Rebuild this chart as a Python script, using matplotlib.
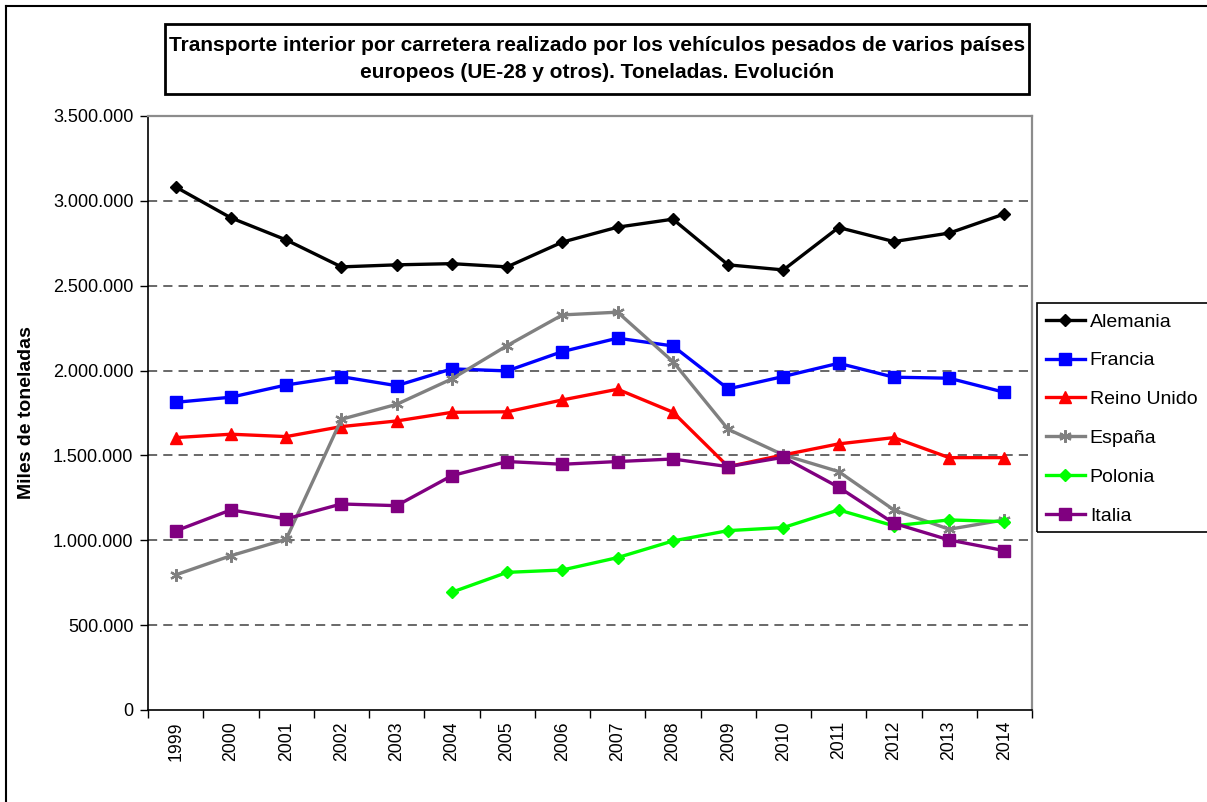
import numpy as np
import matplotlib
matplotlib.use('Agg')
import matplotlib.pyplot as plt
from matplotlib.patches import Rectangle
from matplotlib.lines import Line2D
from matplotlib.ticker import FuncFormatter, FixedLocator

plt.rcParams['font.family'] = ['Liberation Sans', 'DejaVu Sans']

# Datos (miles de toneladas)
years = [str(y) for y in range(1999, 2015)]
alemania = [3082000, 2900000, 2770000, 2611000, 2623000, 2630000, 2611000, 2757000,
            2845000, 2892000, 2623000, 2593000, 2843000, 2760000, 2810000, 2923000]
francia = [1813000, 1843000, 1915000, 1964000, 1911000, 2010000, 1998000, 2112000,
           2191000, 2145000, 1892000, 1965000, 2043000, 1961000, 1955000, 1872000]
reino_unido = [1605000, 1625000, 1611000, 1670000, 1703000, 1754000, 1757000, 1827000,
               1890000, 1755000, 1434000, 1503000, 1568000, 1605000, 1487000, 1487000]
espana = [796000, 909000, 1006000, 1713000, 1801000, 1951000, 2147000, 2328000,
          2344000, 2053000, 1654000, 1503000, 1405000, 1179000, 1065000, 1120000]
polonia = [np.nan, np.nan, np.nan, np.nan, np.nan, 694000, 811000, 825000,
           898000, 996000, 1057000, 1075000, 1179000, 1085000, 1120000, 1110000]
italia = [1055000, 1179000, 1126000, 1214000, 1204000, 1381000, 1464000, 1448000,
          1464000, 1479000, 1434000, 1489000, 1313000, 1100000, 1002000, 939000]

series = [
    ('Alemania', alemania, 'black', 'D', 6.5),
    ('Francia', francia, '#0000FF', 's', 8),
    ('Reino Unido', reino_unido, '#FF0000', '^', 8),
    ('España', espana, '#808080', (6, 2, 0), 9),
    ('Polonia', polonia, '#00FF00', 'D', 6.5),
    ('Italia', italia, '#800080', 's', 8),
]

W, H = 1207, 802
fig = plt.figure(figsize=(W / 100, H / 100), dpi=100)
ax = fig.add_axes([148 / W, 1 - 710 / H, 884 / W, 594 / H])

x = np.arange(len(years))
handles = []
for name, vals, col, mk, ms in series:
    mew = 1.6 if mk == (6, 2, 0) else 1
    ln, = ax.plot(x, vals, color=col, lw=2.4, marker=mk, markersize=ms,
                  markeredgewidth=mew, markerfacecolor=col, markeredgecolor=col,
                  label=name, clip_on=False)
    handles.append(ln)

ax.set_xlim(-0.5, len(years) - 0.5)
ax.set_ylim(0, 3500000)

# ejes y rejilla
ax.set_yticks(np.arange(0, 3500001, 500000))
ax.yaxis.set_major_formatter(FuncFormatter(lambda v, p: f'{int(v):,}'.replace(',', '.')))
for yv in np.arange(500000, 3000001, 500000):
    ax.axhline(yv, color='#404040', lw=1.1, ls=(0, (6, 4)), zorder=0)

ax.set_xticks(x)
ax.set_xticklabels(years, rotation=90, fontsize=12.7)
ax.xaxis.set_minor_locator(FixedLocator(np.arange(-0.5, len(years), 1.0)))
ax.tick_params(axis='x', which='major', length=0, pad=8)
ax.tick_params(axis='x', which='minor', length=6, width=1, direction='out')
ax.tick_params(axis='y', length=6, width=1, direction='out', labelsize=13, pad=4.5)

for s in ['left', 'bottom']:
    ax.spines[s].set_color('black')
    ax.spines[s].set_linewidth(1.2)
for s in ['top', 'right']:
    ax.spines[s].set_color('#8c8c8c')
    ax.spines[s].set_linewidth(1.6)

ax.set_ylabel('Miles de toneladas', fontsize=14, fontweight='bold')
ax.yaxis.set_label_coords((35 - 148) / 884, 0.5)

# título con recuadro
fig.patches.append(Rectangle((165 / W, 1 - 94 / H), 864 / W, 70 / H,
                             transform=fig.transFigure, fill=False,
                             edgecolor='black', lw=2))
fig.text(597 / W, 1 - 59 / H,
         'Transporte interior por carretera realizado por los vehículos pesados de varios países\n'
         'europeos (UE-28 y otros). Toneladas. Evolución',
         ha='center', va='center', fontsize=15, fontweight='bold', linespacing=1.5)

# leyenda
fig.patches.append(Rectangle((1037 / W, 1 - 532 / H), 200 / W, 229 / H,
                             transform=fig.transFigure, fill=False,
                             edgecolor='black', lw=1.2))
fig.legend(handles=handles, loc='upper left', bbox_to_anchor=(1046 / W, 1 - 313 / H),
           frameon=False, fontsize=14, handlelength=2.0, handletextpad=0.25,
           labelspacing=1.09, borderaxespad=0, borderpad=0)

# borde exterior
fig.add_artist(Line2D([6 / W, 6 / W], [0, 1 - 6 / H], transform=fig.transFigure,
                      color='black', lw=1.5))
fig.add_artist(Line2D([6 / W, 1], [1 - 6 / H, 1 - 6 / H], transform=fig.transFigure,
                      color='black', lw=1.5))

fig.savefig('out.png', dpi=100)
